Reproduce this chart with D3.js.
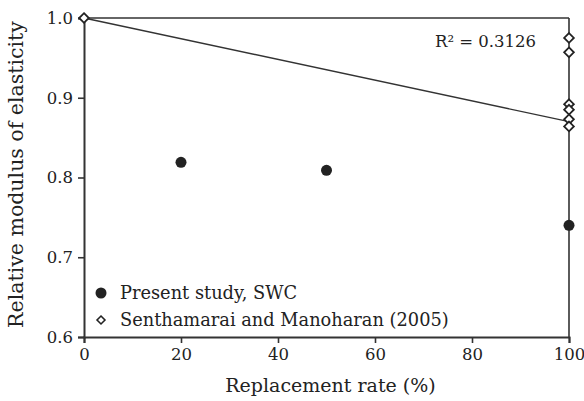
<!DOCTYPE html>
<html>
<head>
<meta charset="utf-8">
<script src="https://cdn.jsdelivr.net/npm/d3@7"></script>
<style>
  html, body { margin: 0; padding: 0; background: #fff; }
  svg { display: block; }
  text { font-family: "DejaVu Serif", "Liberation Serif", serif; fill: #222; }
</style>
</head>
<body>
<svg id="chart" width="584" height="401"></svg>
<script>
// Present study (SWC): replacement rate (%) and relative modulus
const swcRate = [20, 50, 100];
const swcModulus = [0.819, 0.809, 0.740];

// Senthamarai and Manoharan (2005)
const smRate = [0, 100, 100, 100, 100, 100, 100];
const smModulus = [1.0, 0.975, 0.957, 0.892, 0.885, 0.873, 0.864];

// Trend line end points
const trendRate = [0, 100];
const trendModulus = [1.0, 0.870];

const xTicks = [0, 20, 40, 60, 80, 100];
const yTicks = [0.6, 0.7, 0.8, 0.9, 1.0];

const svg = d3.select("#chart");
const margin = { left: 84, right: 15, top: 18, bottom: 64 };
const W = 584, H = 401;

const x = d3.scaleLinear().domain([0, 100]).range([margin.left, W - margin.right]);
const y = d3.scaleLinear().domain([0.6, 1.0]).range([H - margin.bottom, margin.top]);

const ink = "#333";

// Frame: top and right borders
svg.append("line")
  .attr("x1", x(0)).attr("x2", x(100)).attr("y1", y(1.0)).attr("y2", y(1.0))
  .attr("stroke", ink).attr("stroke-width", 1.6);
svg.append("line")
  .attr("x1", x(100)).attr("x2", x(100)).attr("y1", y(1.0)).attr("y2", y(0.6))
  .attr("stroke", ink).attr("stroke-width", 1.6);

// Axes
const xAxis = svg.append("g")
  .attr("transform", `translate(0,${y(0.6)})`)
  .call(d3.axisBottom(x).tickValues(xTicks).tickSize(6).tickPadding(5).tickFormat(d3.format("d")));
const yAxis = svg.append("g")
  .attr("transform", `translate(${x(0)},0)`)
  .call(d3.axisLeft(y).tickValues(yTicks).tickSize(6).tickPadding(5).tickFormat(d3.format(".1f")));

[xAxis, yAxis].forEach(g => {
  g.select(".domain").attr("stroke", ink).attr("stroke-width", 2);
  g.selectAll(".tick line").attr("stroke", ink).attr("stroke-width", 1.6);
  g.selectAll(".tick text")
    .attr("fill", "#222")
    .style("font-family", '"DejaVu Serif", "Liberation Serif", serif')
    .style("font-size", "16.5px");
});

// Trend line
svg.append("line")
  .attr("x1", x(trendRate[0])).attr("y1", y(trendModulus[0]))
  .attr("x2", x(trendRate[1])).attr("y2", y(trendModulus[1]))
  .attr("stroke", ink).attr("stroke-width", 1.4);

// Present study points
svg.append("g").selectAll("circle")
  .data(swcRate.map((r, i) => [r, swcModulus[i]]))
  .join("circle")
  .attr("cx", d => x(d[0])).attr("cy", d => y(d[1]))
  .attr("r", 5.5).attr("fill", "#222");

// Literature points (open diamonds)
const diamond = d3.symbol().type(d3.symbolDiamond2).size(60);
svg.append("g").selectAll("path")
  .data(smRate.map((r, i) => [r, smModulus[i]]))
  .join("path")
  .attr("d", diamond)
  .attr("transform", d => `translate(${x(d[0])},${y(d[1])})`)
  .attr("fill", "#fff").attr("stroke", "#222").attr("stroke-width", 1.8);

// R² annotation
svg.append("text")
  .attr("x", 435).attr("y", 47)
  .style("font-size", "16.5px")
  .text("R² = 0.3126");

// Legend
const legend = svg.append("g");
legend.append("circle").attr("cx", 101).attr("cy", 293).attr("r", 5.5).attr("fill", "#222");
legend.append("text").attr("x", 120).attr("y", 299).style("font-size", "17.8px").text("Present study, SWC");
legend.append("path").attr("d", d3.symbol().type(d3.symbolDiamond2).size(40))
  .attr("transform", "translate(101,320)")
  .attr("fill", "#fff").attr("stroke", "#222").attr("stroke-width", 1.6);
legend.append("text").attr("x", 120).attr("y", 326).style("font-size", "17.8px").text("Senthamarai and Manoharan (2005)");

// Axis titles
svg.append("text")
  .attr("x", x(50) + 4).attr("y", 392)
  .attr("text-anchor", "middle")
  .style("font-size", "19px")
  .text("Replacement rate (%)");
svg.append("text")
  .attr("transform", `translate(23,${y(0.8) - 3}) rotate(-90)`)
  .attr("text-anchor", "middle")
  .style("font-size", "20.5px")
  .text("Relative modulus of elasticity");
</script>
</body>
</html>
